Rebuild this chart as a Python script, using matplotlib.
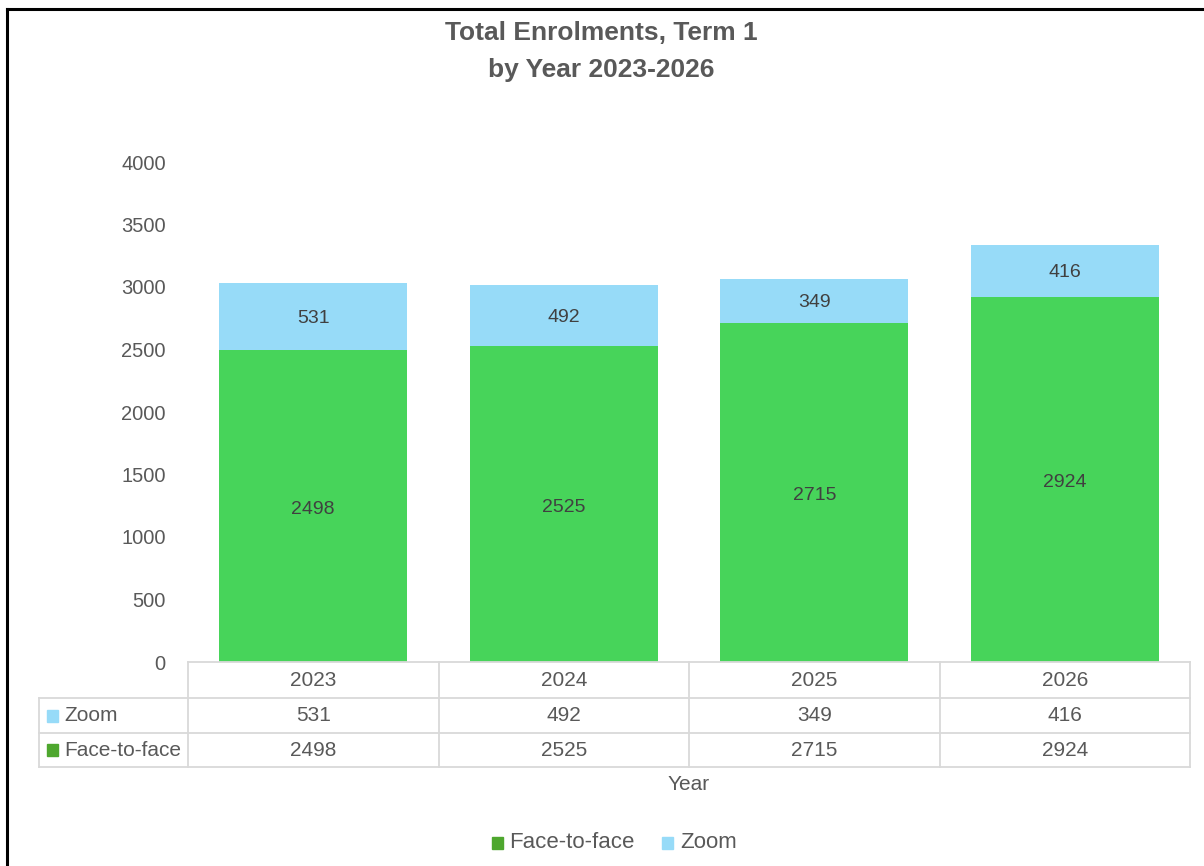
import matplotlib
matplotlib.use("Agg")
import matplotlib.pyplot as plt
from matplotlib.lines import Line2D
from matplotlib.patches import Rectangle
import matplotlib.font_manager as fm

years = ["2023", "2024", "2025", "2026"]
face_to_face = [2498, 2525, 2715, 2924]
zoom = [531, 492, 349, 416]
yticks = [0, 500, 1000, 1500, 2000, 2500, 3000, 3500, 4000]

names = {f.name for f in fm.fontManager.ttflist}
narrow = "Liberation Sans Narrow" if "Liberation Sans Narrow" in names else "Liberation Sans"

C_FACE = "#47D45A"
C_FACE_KEY = "#4EA72E"
C_ZOOM = "#97DBF8"
TXT = "#595959"
GRID = "#D9D9D9"

W, H = 1204, 866
fig = plt.figure(figsize=(W / 100, H / 100), dpi=100)
fig.patch.set_facecolor("white")

def fx(px):
    return px / W

def fy(py):
    return 1 - py / H

# outer frame (top and left edges visible)
fig.add_artist(Line2D([fx(6.5), 1.0], [fy(8.5), fy(8.5)], color="black", lw=2.2))
fig.add_artist(Line2D([fx(6.5), fx(6.5)], [fy(8.5), 0], color="black", lw=2.2))

ax_l, ax_r, ax_t, ax_b = 188, 1190, 162, 662
ax = fig.add_axes([fx(ax_l), fy(ax_b), (ax_r - ax_l) / W, (ax_b - ax_t) / H])
x = list(range(len(years)))
ax.bar(x, face_to_face, width=0.75, color=C_FACE, label="Face-to-face")
ax.bar(x, zoom, width=0.75, bottom=face_to_face, color=C_ZOOM, label="Zoom")
for i in x:
    ax.text(i, face_to_face[i] / 2 - 25, str(face_to_face[i]), ha="center", va="center",
            fontsize=14, color="#404040", family="Liberation Sans")
    ax.text(i, face_to_face[i] + zoom[i] / 2 - 15, str(zoom[i]), ha="center", va="center",
            fontsize=14, color="#404040", family="Liberation Sans")
ax.set_xlim(-0.5, len(years) - 0.5)
ax.set_ylim(0, 4000)
ax.set_yticks(yticks)
ax.set_yticklabels([str(v) for v in yticks], fontsize=14.5, color=TXT, family="Liberation Sans")
ax.tick_params(axis="y", length=0, pad=16)
ax.set_xticks([])
for s in ax.spines.values():
    s.set_visible(False)

# data table
axh = ax_b - ax_t
axw = ax_r - ax_l
def ay(py):
    return (ax_b - py) / axh
def axx(px):
    return (px - ax_l) / axw

row_edges = [662, 698, 733, 767]
col_edges = [188, 438.5, 689, 940, 1190]
lab_left = 39
lk = dict(color=GRID, lw=1.3, transform=ax.transAxes, clip_on=False)
ax.add_line(Line2D([axx(188), axx(1190)], [ay(662), ay(662)], **lk))
for ry in row_edges[1:]:
    ax.add_line(Line2D([axx(lab_left), axx(1190)], [ay(ry), ay(ry)], **lk))
for cx in col_edges:
    ax.add_line(Line2D([axx(cx), axx(cx)], [ay(662), ay(767)], **lk))
ax.add_line(Line2D([axx(lab_left), axx(lab_left)], [ay(698), ay(767)], **lk))

rows = [("Zoom", zoom, C_ZOOM), ("Face-to-face", face_to_face, C_FACE_KEY)]
tk = dict(fontsize=15, color=TXT, family=narrow, transform=ax.transAxes,
          ha="center", va="center", clip_on=False)
for j, yr in enumerate(years):
    cxm = (col_edges[j] + col_edges[j + 1]) / 2
    ax.text(axx(cxm), ay(680), yr, **tk)
for r, (name, vals, col) in enumerate(rows):
    cy = (row_edges[r + 1] + row_edges[r + 2]) / 2
    ax.add_patch(Rectangle((axx(47), ay(cy + 6)), 11 / axw, 12 / axh, color=col,
                           transform=ax.transAxes, clip_on=False))
    ax.text(axx(64), ay(cy), name, fontsize=15, color=TXT, family=narrow,
            transform=ax.transAxes, ha="left", va="center", clip_on=False)
    for j, v in enumerate(vals):
        cxm = (col_edges[j] + col_edges[j + 1]) / 2
        ax.text(axx(cxm), ay(cy), str(v), **tk)

# axis title
fig.text(fx(689), fy(785), "Year", fontsize=15, color=TXT, family=narrow,
         ha="center", va="center")

# legend
fig.add_artist(Rectangle((fx(492), fy(849)), 11 / W, 12 / H, color=C_FACE_KEY))
fig.text(fx(509), fy(843), "Face-to-face", fontsize=16, color=TXT, family=narrow,
         ha="left", va="center")
fig.add_artist(Rectangle((fx(662), fy(849)), 11 / W, 12 / H, color=C_ZOOM))
fig.text(fx(680), fy(843), "Zoom", fontsize=16, color=TXT, family=narrow,
         ha="left", va="center")

# title
fig.text(fx(601), fy(33), "Total Enrolments, Term 1", fontsize=19, fontweight="bold",
         color=TXT, family=narrow, ha="center", va="center")
fig.text(fx(601), fy(70), "by Year 2023-2026", fontsize=19, fontweight="bold",
         color=TXT, family=narrow, ha="center", va="center")

fig.savefig("out.png", dpi=100, facecolor="white")
